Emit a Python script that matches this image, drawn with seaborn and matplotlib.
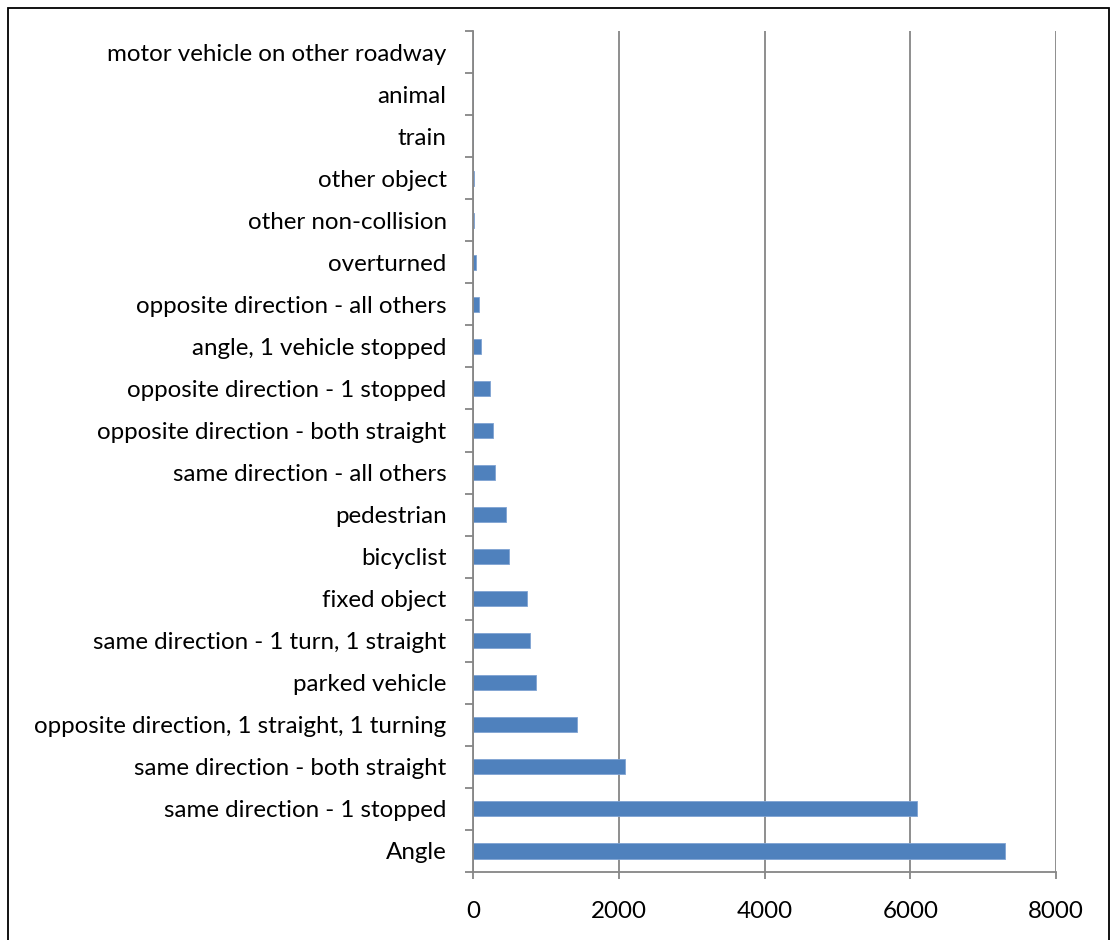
import matplotlib
matplotlib.use("Agg")
import matplotlib.pyplot as plt
import seaborn as sns
import pandas as pd
from matplotlib.patches import Rectangle
from matplotlib.ticker import MultipleLocator, FixedLocator

# collision types, listed top to bottom as in the chart
collision_types = [
    "motor vehicle on other roadway", "animal", "train", "other object",
    "other non-collision", "overturned", "opposite direction - all others",
    "angle, 1 vehicle stopped", "opposite direction - 1 stopped",
    "opposite direction - both straight", "same direction - all others",
    "pedestrian", "bicyclist", "fixed object",
    "same direction - 1 turn, 1 straight", "parked vehicle",
    "opposite direction, 1 straight, 1 turning",
    "same direction - both straight", "same direction - 1 stopped", "Angle",
]
crash_counts = [1, 2, 2, 8, 9, 38, 82, 115, 230, 270, 302, 448, 498, 745,
                786, 868, 1422, 2085, 6087, 7298]

df = pd.DataFrame({"type": collision_types, "count": crash_counts})

sns.set_style("white")
plt.rcParams["font.family"] = ["Lato", "DejaVu Sans"]

fig = plt.figure(figsize=(11.11, 9.4), dpi=100)
W, H = 1111, 940
ax = fig.add_axes([473 / W, 1 - 872 / H, (1056 - 473) / W, (872 - 31) / H])

sns.barplot(data=df, x="count", y="type", orient="h", color="#4F81BD",
            saturation=1, width=0.36, edgecolor="#7FA3D3", linewidth=0.6, ax=ax)

ax.set_xlim(0, 8000)
ax.set_ylim(len(collision_types) - 0.5, -0.5)
ax.xaxis.set_major_locator(MultipleLocator(2000))
ax.grid(axis="x", color="#868686", linewidth=1.3)
ax.set_axisbelow(True)
ax.set_xlabel("")
ax.set_ylabel("")

for s in ["top", "right"]:
    ax.spines[s].set_visible(False)
for s in ["left", "bottom"]:
    ax.spines[s].set_color("#868686")
    ax.spines[s].set_linewidth(1.3)

# category ticks sit between bars, labels at bar centres
ax.yaxis.set_minor_locator(FixedLocator([i - 0.5 for i in range(len(collision_types) + 1)]))
ax.tick_params(axis="y", which="major", length=0, pad=19, labelsize=17.4, labelcolor="black")
ax.tick_params(axis="y", which="minor", left=True, length=6, width=1.3, color="#868686", direction="out")
ax.tick_params(axis="x", which="major", bottom=True, length=5, width=1.3, color="#868686",
               direction="out", pad=16, labelsize=17.4, labelcolor="black")

fig.patches.append(Rectangle((8 / W, -0.01), (1109 - 8) / W, 1 - 8 / H + 0.01,
                             transform=fig.transFigure, fill=False,
                             edgecolor="black", linewidth=1.3))

fig.savefig("out.png", dpi=100)
